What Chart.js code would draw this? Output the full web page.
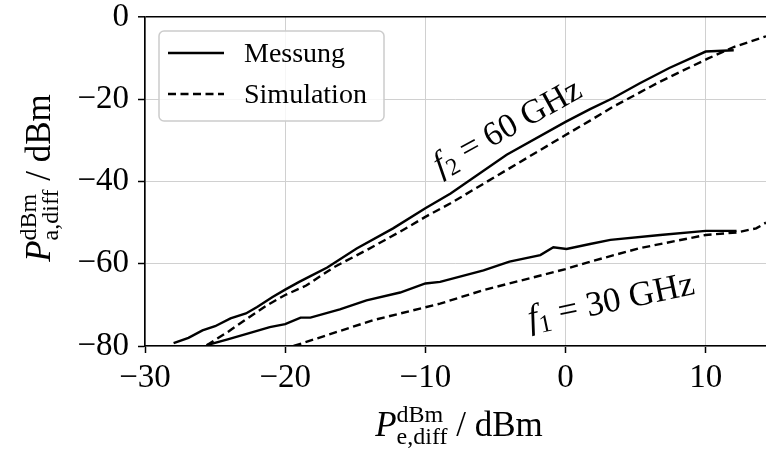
<!DOCTYPE html>
<html>
<head>
<meta charset="utf-8">
<script src="https://cdn.jsdelivr.net/npm/chart.js@4/dist/chart.umd.min.js"></script>
<style>
  html, body { margin: 0; padding: 0; background: #fff; }
  #wrap { width: 766px; height: 450px; }
</style>
</head>
<body>
<div id="wrap"><canvas id="powerChart" width="766" height="450"></canvas></div>
<script>
// Output power vs. input power, measured and simulated, for both frequencies (dBm)
const mess60X = [-27.96, -26.9, -25.9, -25.0, -23.9, -22.8, -22.0, -20.9, -20.0, -19.0, -18.2, -17.0, -14.9, -12.3, -10.0, -8.2, -4.2, 0.0, 1.75, 3.4, 5.3, 7.4, 10.0, 12.0];
const mess60Y = [-79.3, -78.0, -76.2, -75.2, -73.3, -72.1, -70.5, -68.1, -66.3, -64.4, -63.0, -60.9, -56.3, -51.4, -46.5, -42.9, -33.5, -25.5, -22.4, -19.7, -16.1, -12.4, -8.4, -8.1];

const sim60X = [-25.6, -24.1, -22.7, -21.3, -20.0, -18.5, -16.5, -14.2, -11.8, -10.0, -8.2, -4.2, 0.0, 1.75, 3.4, 6.75, 10.1, 12.0, 14.3];
const sim60Y = [-79.8, -76.6, -73.3, -70.1, -67.6, -65.3, -60.8, -56.7, -52.2, -48.6, -45.3, -37.2, -28.7, -25.2, -21.8, -15.7, -10.2, -7.3, -4.7];

const mess30X = [-25.6, -24.1, -22.5, -21.1, -20.0, -18.9, -18.2, -16.1, -14.2, -11.8, -10.0, -8.95, -5.85, -4.0, -1.8, -0.87, 0.07, 1.75, 3.2, 6.75, 10.0, 12.2];
const mess30Y = [-79.8, -78.4, -76.8, -75.4, -74.7, -73.1, -73.1, -71.1, -68.9, -67.0, -64.8, -64.4, -61.6, -59.5, -57.9, -56.0, -56.4, -55.2, -54.2, -53.0, -52.0, -52.0];

const sim30X = [-19.4, -13.7, -8.95, -5.85, 0.0, 1.75, 5.3, 10.0, 12.2, 13.6, 14.3];
const sim30Y = [-80.0, -73.7, -69.7, -66.4, -61.3, -59.5, -56.2, -53.0, -52.4, -51.4, -50.0];

const xTicks = [-30, -20, -10, 0, 10];
const yTicks = [-80, -60, -40, -20, 0];
const legendLabels = ['Messung', 'Simulation'];

const SERIF = "'Liberation Serif', 'Times New Roman', serif";
const GRID = '#d0d0d0';
const DASH = [8, 4.5];

function pts(xs, ys) {
  return xs.map((x, i) => ({ x: x, y: ys[i] }));
}

function minus(v) {
  return String(v).replace('-', '\u2212');
}

// draws a row of text pieces (for sub/superscripts); a piece with keep:true
// does not advance, so the next piece stacks on top of it
function drawRuns(ctx, runs, x, y, angle) {
  ctx.save();
  ctx.translate(x, y);
  ctx.rotate(angle * Math.PI / 180);
  ctx.fillStyle = '#000';
  ctx.textBaseline = 'alphabetic';
  ctx.textAlign = 'left';
  let total = 0, kept = 0;
  runs.forEach(r => {
    ctx.font = r.font;
    r.w = ctx.measureText(r.text).width;
    if (r.keep) { kept = r.w; } else { total += Math.max(r.w, kept); kept = 0; }
  });
  let cx = -total / 2;
  kept = 0;
  runs.forEach(r => {
    ctx.font = r.font;
    ctx.fillText(r.text, cx, r.dy || 0);
    if (r.keep) { kept = r.w; } else { cx += Math.max(r.w, kept); kept = 0; }
  });
  ctx.restore();
}

const labelsPlugin = {
  id: 'labels',
  afterDatasetsDraw(chart) {
    const ctx = chart.ctx;
    const xs = chart.scales.x, ys = chart.scales.y;

    // curve annotations
    drawRuns(ctx, [
      { text: 'f', font: 'italic 34px ' + SERIF },
      { text: '2', font: '24px ' + SERIF, dy: 6 },
      { text: ' = 60 GHz', font: '34px ' + SERIF }
    ], xs.getPixelForValue(-4.17) + 5, ys.getPixelForValue(-26.7) + 9, -29);

    drawRuns(ctx, [
      { text: 'f', font: 'italic 35px ' + SERIF },
      { text: '1', font: '25px ' + SERIF, dy: 6 },
      { text: ' = 30 GHz', font: '35px ' + SERIF }
    ], xs.getPixelForValue(3.46) - 1, ys.getPixelForValue(-68.9) + 11, -12);

    // legend box
    const lx = chart.chartArea.left + 14, ly = chart.chartArea.top + 14;
    ctx.save();
    ctx.beginPath();
    ctx.roundRect(lx, ly, 225, 90, 5);
    ctx.fillStyle = 'rgba(255,255,255,0.8)';
    ctx.fill();
    ctx.strokeStyle = '#cccccc';
    ctx.lineWidth = 1.5;
    ctx.stroke();
    legendLabels.forEach((label, i) => {
      const ry = ly + 22 + i * 41;
      ctx.beginPath();
      ctx.setLineDash(i === 0 ? [] : DASH);
      ctx.strokeStyle = '#000';
      ctx.lineWidth = 2.4;
      ctx.moveTo(lx + 9, ry);
      ctx.lineTo(lx + 65, ry);
      ctx.stroke();
      ctx.setLineDash([]);
      ctx.fillStyle = '#000';
      ctx.font = '28px ' + SERIF;
      ctx.textBaseline = 'alphabetic';
      ctx.fillText(label, lx + 85, ry + 9);
    });
    ctx.restore();

    // axis titles
    drawRuns(ctx, [
      { text: 'P', font: 'italic 35px ' + SERIF },
      { text: 'dBm', font: '24px ' + SERIF, dy: -14, keep: true },
      { text: 'e,diff', font: '24px ' + SERIF, dy: 8 },
      { text: ' / dBm', font: '35px ' + SERIF }
    ], 459, 436, 0);

    drawRuns(ctx, [
      { text: 'P', font: 'italic 35px ' + SERIF },
      { text: 'dBm', font: '24px ' + SERIF, dy: -14, keep: true },
      { text: 'a,diff', font: '24px ' + SERIF, dy: 8 },
      { text: ' / dBm', font: '35px ' + SERIF }
    ], 50, 178, -90);
  }
};

const lineStyle = { borderColor: '#000', borderWidth: 2.4, pointRadius: 0, fill: false, tension: 0 };

new Chart(document.getElementById('powerChart'), {
  type: 'scatter',
  data: {
    datasets: [
      { label: 'Messung 60 GHz', data: pts(mess60X, mess60Y), showLine: true, ...lineStyle },
      { label: 'Simulation 60 GHz', data: pts(sim60X, sim60Y), showLine: true, borderDash: DASH, ...lineStyle },
      { label: 'Messung 30 GHz', data: pts(mess30X, mess30Y), showLine: true, ...lineStyle },
      { label: 'Simulation 30 GHz', data: pts(sim30X, sim30Y), showLine: true, borderDash: DASH, ...lineStyle }
    ]
  },
  options: {
    responsive: false,
    animation: false,
    devicePixelRatio: 1,
    layout: { padding: { top: 0, right: 0, left: 0, bottom: 0 } },
    plugins: { legend: { display: false }, tooltip: { enabled: false } },
    scales: {
      x: {
        type: 'linear',
        min: -30,
        max: 14.3,
        afterBuildTicks: s => { s.ticks = xTicks.map(v => ({ value: v })); },
        afterFit: s => { s.height = 104; s.paddingLeft = 0; s.paddingRight = 0; },
        ticks: {
          color: '#000',
          font: { family: SERIF, size: 33, lineHeight: 1.05 },
          padding: 8,
          maxRotation: 0,
          callback: v => minus(v)
        },
        grid: { color: GRID, lineWidth: 1, tickColor: '#000', tickLength: 7, tickWidth: 1.5 },
        border: { color: '#000', width: 1.6 }
      },
      y: {
        min: -80,
        max: 0,
        afterBuildTicks: s => { s.ticks = yTicks.map(v => ({ value: v })); },
        // fixed axis width and a 17px gap above the plot
        afterFit: s => { s.width = 145; s.paddingTop = 17; s.paddingBottom = 0; },
        ticks: {
          color: '#000',
          font: { family: SERIF, size: 33, lineHeight: 1.05 },
          padding: 9,
          callback: v => minus(v)
        },
        grid: {
          // the top grid line doubles as the upper frame
          color: c => (c.tick && c.tick.value === 0 ? '#000' : GRID),
          lineWidth: c => (c.tick && c.tick.value === 0 ? 1.6 : 1),
          tickColor: '#000',
          tickLength: 7,
          tickWidth: 1.5
        },
        border: { color: '#000', width: 1.6 }
      }
    }
  },
  plugins: [labelsPlugin]
});
</script>
</body>
</html>
